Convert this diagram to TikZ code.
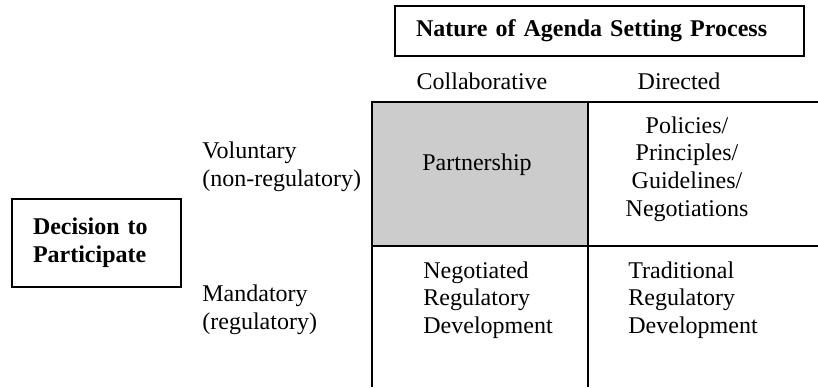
\documentclass[tikz,border=0pt]{standalone}
\usepackage{fontspec}
\setmainfont{Liberation Serif}
\usetikzlibrary{positioning}
\definecolor{cellgray}{RGB}{204,204,204}
\tikzset{
	txt/.style={inner sep=0pt, font=\fontsize{12}{13.8}\selectfont, align=left},
	headbox/.style={draw, line width=0.8pt, inner ysep=0pt, inner xsep=10.5pt, align=left, font=\fontsize{12}{13.8}\selectfont\bfseries},
	gridline/.style={line width=1pt}
}
\begin{document}
\begin{tikzpicture}[x=0.5pt, y=-0.5pt]
			\useasboundingbox (0,0) rectangle (818,387);
			% matrix cells
			\coordinate (tl) at (372,102);
			\coordinate (tm) at (588,102);
			\coordinate (tr) at (818,102);
			\coordinate (ml) at (372,246);
			\coordinate (mm) at (588,246);
			\coordinate (mr) at (818,246);
			\coordinate (bl) at (372,387);
			\coordinate (bm) at (588,387);
			\fill[cellgray] (tl) rectangle (mm);
			\draw[gridline] (bl) -- (tl) -- (tr);
			\draw[gridline] (tm) -- (bm);
			\draw[gridline] (ml) -- (mr);
			% headings
			\node[headbox, minimum height=25pt, text width=183.5pt] (nature) at (599.5,31) {Nature of Agenda Setting Process};
			\node[headbox, minimum height=44pt, text width=63.5pt] (decision) at (96.5,243) {Decision to\\Participate};
			\node[txt] (collab) at (482,81) {Collaborative};
			\node[txt] (directed) at (679,81) {Directed};
			\node[txt, anchor=west] (voluntary) at (202,166.5) {Voluntary\\(non-regulatory)};
			\node[txt, anchor=west] (mandatory) at (202,310) {Mandatory\\(regulatory)};
			% cell texts
			\node[txt] (partner) at (477,165) {Partnership};
			\node[txt, align=center] (policies) at (687,169) {Policies/\\Principles/\\Guidelines/\\Negotiations};
			\node[txt, anchor=west] (negotiated) at (423,300) {Negotiated\\Regulatory\\Development};
			\node[txt, anchor=west] (traditional) at (628,300) {Traditional\\Regulatory\\Development};
		\end{tikzpicture}
\end{document}
